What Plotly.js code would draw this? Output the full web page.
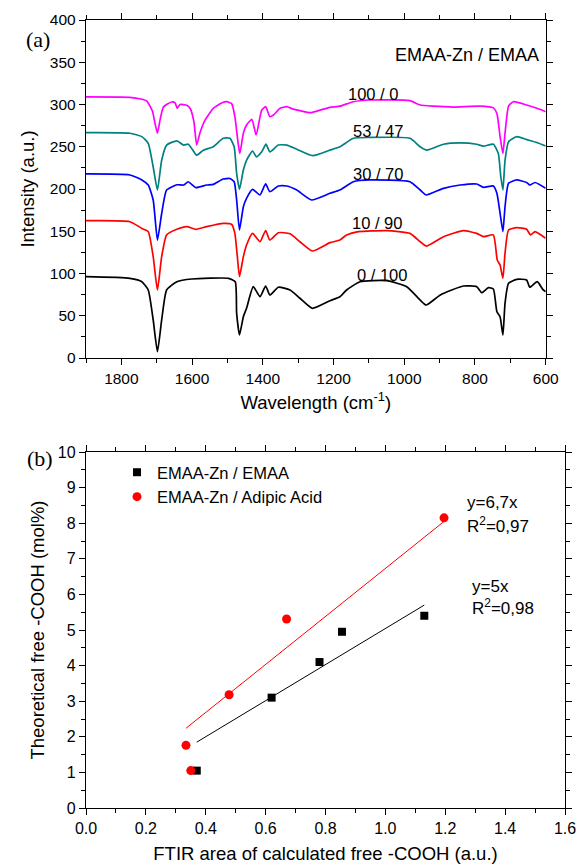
<!DOCTYPE html>
<html>
<head>
<meta charset="utf-8">
<script src="https://cdn.plot.ly/plotly-3.0.1.min.js"></script>
<style>html,body{margin:0;padding:0;background:#fff;}#chart{width:578px;height:864px;}</style>
</head>
<body>
<div id="chart"></div>
<script>
// ---------- Panel (a): FTIR spectra ----------
const seriesNames = ["100 / 0", "53 / 47", "30 / 70", "10 / 90", "0 / 100"];

const wnMagenta = [1900,1776,1745,1728,1712,1705,1698,1690,1681,1658,1648,1642,1634,1615,1605,1595,1587,1578,1563,1540,1515,1502,1488,1479,1470,1465,1455,1446,1431,1419,1408,1403,1392,1380,1370,1351,1332,1314,1266,1257,1210,1182,1144,1097,984,955,918,861,786,748,738,729,721,715,705,692,654,625,600];
const intMagenta = [309,308.5,306.5,304,292,278,266,283,297,303,302,295.5,300,299,295,280,252,266,281.7,295.5,302,303.3,301,285.6,255,242,266,275.7,282.4,263.9,285,293.5,297.4,285.6,287.5,295.5,297.4,294.5,290.3,291,296.6,298,303.3,305.3,304.5,299.4,298,297,298,296,289.5,262,242,266,298,303.3,299.4,295.5,291.5];

const wnTeal = [1900,1776,1742,1724,1710,1698,1686,1672,1643,1624,1611,1601,1587,1568,1540,1512,1493,1481,1474,1466,1455,1446,1429,1418,1403,1391,1380,1356,1332,1304,1259,1210,1182,1144,1097,984,955,936,889,842,795,776,748,734,727,721,715,705,682,654,625,600];
const intTeal = [266.7,266,262,254,226,198.8,234,252,257,252,253,248,240,246,250,260,260,250,218.6,199.6,222.5,234,245,238,244,253,244,252,252,247,239.4,246,250,260,261,260,250,246,253,254.6,253,250.7,253,242,214.5,198.8,234,256,262,258.5,255,250.9];

const wnBlue = [1900,1776,1742,1724,1710,1698,1686,1672,1643,1624,1611,1589,1559,1540,1512,1493,1481,1474,1466,1455,1446,1429,1408,1392,1380,1356,1332,1304,1262,1210,1182,1144,1097,984,955,938,889,842,795,776,748,738,729,721,715,705,682,654,645,630,600];
const intBlue = [217.8,216.6,210.7,204.7,187,139.6,171,198.8,205,204.7,208.6,201.6,204.7,205.5,211.8,212.4,208.6,187,151.5,179,189,199.6,192.9,206,196.8,203.6,203.6,198.8,187,194.9,198.8,208.6,210.7,208.6,198.8,192.9,200.8,204.7,205.9,201.9,203.6,194.9,171.2,149.5,179,206.7,210.7,207.7,204.7,207.7,200.8];

const wnRed = [1900,1776,1742,1724,1710,1698,1686,1672,1643,1615,1589,1559,1512,1488,1479,1472,1466,1455,1446,1429,1408,1392,1380,1356,1323,1295,1260,1210,1182,1163,1130,1050,984,955,938,889,833,795,776,748,737,729,721,715,705,682,654,643,630,600];
const intRed = [162.5,161.3,153.4,149.5,119.9,80.5,119.9,145.6,152.3,155.4,152.3,155.4,159.3,158,147.5,119.9,96.2,119.9,133.7,147.5,137.6,150.7,139.6,148.3,147,137.6,126.6,136.5,139.6,145.6,149.5,150.7,147.5,137.6,132.5,143.6,150.7,147.5,143.6,145.6,116,110,94.3,123.9,151.5,154.2,152.3,145.6,149.5,141.6];

const wnBlack = [1900,1776,1742,1724,1710,1698,1686,1672,1643,1601,1497,1478,1474,1466,1455,1446,1427,1408,1392,1380,1356,1323,1295,1260,1210,1182,1163,1125,1050,993,955,938,898,833,795,781,762,748,738,729,721,715,705,682,654,645,624,607,600];
const intBlack = [96.2,94.3,90.3,80.5,45,7.5,45,80.5,90.3,93.5,94.3,90.3,52.9,27.2,48.9,58.8,84.4,72.5,85.2,74.6,83.7,80.5,70.7,58.8,67.8,72.5,80.5,90.3,91.5,84.4,68.6,62.7,74.6,85.2,84.4,77.3,83.2,81.7,54.8,48.9,27.2,64.7,88.4,93.1,92.3,83.7,90.3,80.5,78.5];

const spectraColors = ["#FF00FF", "#008080", "#0000FF", "#FF0000", "#000000"];

// ---------- Panel (b): scatter + fits ----------
const emaaX = [0.37, 0.62, 0.78, 0.855, 1.13];
const emaaY = [1.05, 3.10, 4.10, 4.95, 5.40];
const adipicX = [0.35, 0.334, 0.478, 0.67, 1.196];
const adipicY = [1.05, 1.76, 3.18, 5.31, 8.15];
const fitEmaaX = [0.37, 1.13];
const fitEmaaY = [1.85, 5.70];
const fitAdipicX = [0.334, 1.196];
const fitAdipicY = [2.24, 8.05];

const FONT = "Liberation Sans, Arial, sans-serif";
const SERIF = "Liberation Serif, Times New Roman, serif";
const W = 578, H = 864;
const px = v => v / W;
const py = v => 1 - v / H;

const wn = [wnMagenta, wnTeal, wnBlue, wnRed, wnBlack];
const it = [intMagenta, intTeal, intBlue, intRed, intBlack];

const traces = [];
for (let i = 0; i < 5; i++) {
  traces.push({
    x: wn[i], y: it[i], type: "scatter", mode: "lines",
    name: seriesNames[i], showlegend: false,
    line: {color: spectraColors[i], width: 1.7, shape: "spline", smoothing: 0.5},
    xaxis: "x", yaxis: "y", hoverinfo: "skip"
  });
}
traces.push({x: fitEmaaX, y: fitEmaaY, type: "scatter", mode: "lines", showlegend: false,
  line: {color: "#000", width: 1}, xaxis: "x2", yaxis: "y2"});
traces.push({x: fitAdipicX, y: fitAdipicY, type: "scatter", mode: "lines", showlegend: false,
  line: {color: "#FF0000", width: 1}, xaxis: "x2", yaxis: "y2"});
traces.push({x: emaaX, y: emaaY, type: "scatter", mode: "markers", name: "EMAA-Zn / EMAA",
  marker: {symbol: "square", size: 8, color: "#000"}, xaxis: "x2", yaxis: "y2"});
traces.push({x: adipicX, y: adipicY, type: "scatter", mode: "markers", name: "EMAA-Zn / Adipic Acid",
  marker: {symbol: "circle", size: 9, color: "#FF0000"}, xaxis: "x2", yaxis: "y2"});

const axisCommon = {
  showline: true, linecolor: "#000", linewidth: 1.2, mirror: "ticks",
  ticks: "outside", ticklen: 6, tickwidth: 1, tickcolor: "#000",
  showgrid: false, zeroline: false, automargin: false,
  tickfont: {family: FONT, size: 15.5, color: "#000"}
};
const titleFont = {family: FONT, size: 18.5, color: "#000"};
const annFont = s => ({family: FONT, size: s, color: "#000"});

const layout = {
  width: W, height: H,
  margin: {l: 0, r: 0, t: 0, b: 0},
  paper_bgcolor: "#fff", plot_bgcolor: "#fff",
  font: {family: FONT, color: "#000"},
  showlegend: true,
  legend: {x: px(117), y: py(455), xanchor: "left", yanchor: "top",
    bgcolor: "rgba(0,0,0,0)", font: {family: FONT, size: 16.5, color: "#000"}, tracegroupgap: 0},
  xaxis: Object.assign({}, axisCommon, {
    domain: [px(86), px(545.7)], anchor: "y",
    range: [1900, 600], dtick: 200, tick0: 0,
    minor: {dtick: 100, ticklen: 4, tickcolor: "#000", ticks: "outside"},
    title: {text: "Wavelength (cm<sup>-1</sup>)", font: titleFont, standoff: 10}
  }),
  yaxis: Object.assign({}, axisCommon, {
    domain: [py(358), py(20)], anchor: "x",
    range: [0, 400], dtick: 50,
    minor: {dtick: 25, ticklen: 4, tickcolor: "#000", ticks: "outside"},
    title: {text: "Intensity (a.u.)", font: titleFont, standoff: 10}
  }),
  xaxis2: Object.assign({}, axisCommon, {
    domain: [px(86), px(565)], anchor: "y2",
    range: [0, 1.6], dtick: 0.2, tickformat: ".1f",
    tickfont: {family: FONT, size: 16, color: "#000"},
    minor: {dtick: 0.1, ticklen: 4, tickcolor: "#000", ticks: "outside"},
    title: {text: "FTIR area of calculated free -COOH (a.u.)", font: titleFont, standoff: 17}
  }),
  yaxis2: Object.assign({}, axisCommon, {
    domain: [py(808), py(452)], anchor: "x2",
    range: [0, 10], dtick: 1,
    tickfont: {family: FONT, size: 16, color: "#000"},
    minor: {dtick: 0.5, ticklen: 4, tickcolor: "#000", ticks: "outside"},
    title: {text: "Theoretical free -COOH (mol%)", font: titleFont, standoff: 8}
  }),
  annotations: [
    {text: "(a)", x: px(24), y: py(25), xref: "paper", yref: "paper", showarrow: false, font: {family: SERIF, size: 22, color: "#000"}},
    {text: "(b)", x: px(25), y: py(458), xref: "paper", yref: "paper", showarrow: false, font: {family: SERIF, size: 22, color: "#000"}},
    {text: "EMAA-Zn / EMAA", x: px(541), y: py(43), xref: "paper", yref: "paper", xanchor: "right", showarrow: false, font: annFont(18)},
    {text: seriesNames[0], x: px(372.5), y: py(83), xref: "paper", yref: "paper", showarrow: false, font: annFont(16.5)},
    {text: seriesNames[1], x: px(378), y: py(120), xref: "paper", yref: "paper", showarrow: false, font: annFont(16.5)},
    {text: seriesNames[2], x: px(377.5), y: py(163), xref: "paper", yref: "paper", showarrow: false, font: annFont(16.5)},
    {text: seriesNames[3], x: px(377), y: py(212), xref: "paper", yref: "paper", showarrow: false, font: annFont(16.5)},
    {text: seriesNames[4], x: px(382), y: py(264), xref: "paper", yref: "paper", showarrow: false, font: annFont(16.5)},
    {text: "y=6,7x", x: px(465), y: py(502), xref: "paper", yref: "paper", xanchor: "left", showarrow: false, font: annFont(17)},
    {text: "R<sup>2</sup>=0,97", x: px(465), y: py(525), xref: "paper", yref: "paper", xanchor: "left", showarrow: false, font: annFont(17)},
    {text: "y=5x", x: px(470), y: py(598), xref: "paper", yref: "paper", xanchor: "left", showarrow: false, font: annFont(17)},
    {text: "R<sup>2</sup>=0,98", x: px(470), y: py(620), xref: "paper", yref: "paper", xanchor: "left", showarrow: false, font: annFont(17)}
  ]
};

Plotly.newPlot("chart", traces, layout, {displayModeBar: false, staticPlot: true});
</script>
</body>
</html>
